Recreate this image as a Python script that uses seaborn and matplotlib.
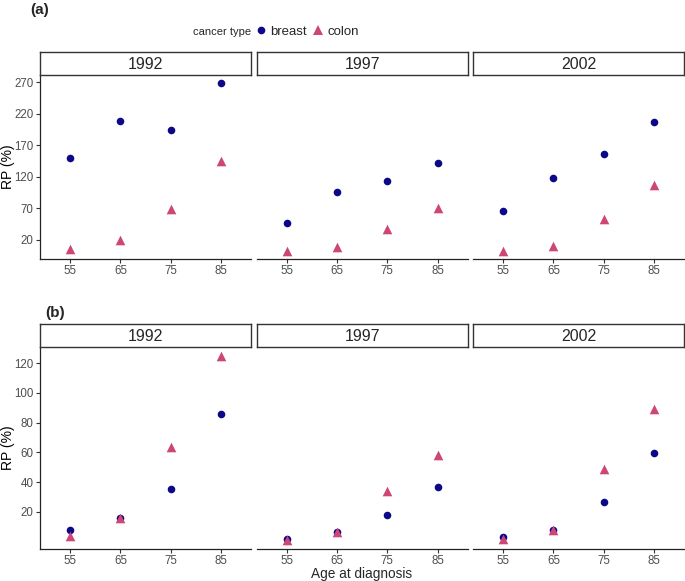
import numpy as np
import pandas as pd
import matplotlib
matplotlib.use("Agg")
import matplotlib.pyplot as plt
from matplotlib.lines import Line2D
import seaborn as sb

ages = ["55", "65", "75", "85"]
years = ["1992", "1997", "2002"]

# panel (a): one row per year, values for ages 55..85
a_breast = [[150, 208, 194, 268], [47, 96, 113, 142], [65, 118, 156, 207]]
a_colon = [[5, 20, 69, 144], [2, 8, 37, 70], [2, 10, 53, 106]]
a_ticks = [20, 70, 120, 170, 220, 270]

# panel (b)
b_breast = [[7.5, 15.6, 35.2, 85.6], [1.9, 6.2, 17.8, 36.8], [2.8, 7.9, 26.5, 59.9]]
b_colon = [[3.7, 16.2, 63.6, 124.5], [1.2, 6.2, 33.7, 58.0], [1.5, 8.0, 48.5, 89.0]]
b_ticks = [20, 40, 60, 80, 100, 120]

types = ["breast", "colon"]
palette = {"breast": "#0D0887", "colon": "#CC4678"}
markers = {"breast": "o", "colon": "^"}

sb.set_style("white")
plt.rcParams['font.family'] = ['Liberation Sans', 'DejaVu Sans']


def makeFrame(breast, colon):
    rows = []
    for i, yr in enumerate(years):
        for j, age in enumerate(ages):
            rows.append({"year": yr, "age": age, "type": "breast", "rp": breast[i][j]})
            rows.append({"year": yr, "age": age, "type": "colon", "rp": colon[i][j]})
    return pd.DataFrame(rows)


W, H = 685.0, 581.0
lefts = [40, 256.7, 473]
pw = 211


def drawRow(fig, df, top, bottom, ticks):
    lo, hi = df.rp.min(), df.rp.max()
    pad = 0.05 * (hi - lo)
    for k, yr in enumerate(years):
        ax = fig.add_axes([lefts[k]/W, 1-bottom/H, pw/W, (bottom-top)/H])
        sub = df[df.year == yr]
        for t in types:
            d = sub[sub.type == t]
            sb.scatterplot(data=d, x="age", y="rp", color=palette[t], marker=markers[t],
                           s=30 if t == "breast" else 48, linewidth=0, ax=ax, legend=False)
        ax.set_xlim(-0.6, 3.6)
        ax.set_ylim(lo-pad, hi+pad)
        ax.set_yticks(ticks)
        ax.set_xlabel("")
        ax.set_ylabel("")
        for s in ["top", "right"]:
            ax.spines[s].set_visible(False)
        ax.spines["bottom"].set_color("#222222")
        ax.spines["left"].set_color("#222222")
        ax.spines["bottom"].set_linewidth(0.9)
        ax.spines["left"].set_linewidth(0.9)
        ax.tick_params(axis="both", length=3, width=0.8, color="#333333",
                       labelcolor="#4D4D4D", labelsize=8.3, pad=1.8, left=True, bottom=True)
        ax.tick_params(axis="x", pad=1.0)
        if k == 0:
            ax.set_ylabel("RP (%)", fontsize=10, color="black")
            ax.yaxis.set_label_coords(-25/pw, 0.5)
        else:
            ax.spines["left"].set_visible(False)
            ax.tick_params(axis="y", left=False, labelleft=False)
        # strip
        sax = fig.add_axes([lefts[k]/W, 1-top/H, pw/W, 23/H])
        sax.set_xticks([])
        sax.set_yticks([])
        for s in sax.spines.values():
            s.set_color("#333333")
            s.set_linewidth(1.0)
        sax.text(0.5, 0.45, yr, ha="center", va="center", fontsize=11.5, transform=sax.transAxes)
        sax.set_facecolor("white")
    return


fig = plt.figure(figsize=(6.85, 5.81), dpi=100)

drawRow(fig, makeFrame(a_breast, a_colon), 75, 259.3, a_ticks)
drawRow(fig, makeFrame(b_breast, b_colon), 347.3, 549, b_ticks)

fig.text(30/W, 1-10/H, "(a)", fontsize=11, fontweight="bold", va="center", ha="left")
fig.text(45/W, 1-313/H, "(b)", fontsize=11, fontweight="bold", va="center", ha="left")
fig.text(362/W, 1-578.3/H, "Age at diagnosis", fontsize=9.8, ha="center", va="baseline")

fig.text(251/W, 1-32/H, "cancer type", fontsize=8, ha="right", va="center")
handles = [Line2D([0], [0], marker=markers[t], color=palette[t], linestyle="",
                  markersize=5.5 if t == "breast" else 7, markeredgewidth=0) for t in types]
fig.legend(handles, types, loc="center left", bbox_to_anchor=(254/W, 1-32/H), ncol=2,
           frameon=False, fontsize=9.5, handletextpad=0.15, columnspacing=0.3,
           handlelength=1.1, borderaxespad=0, borderpad=0)

fig.savefig("out.png", dpi=100)
